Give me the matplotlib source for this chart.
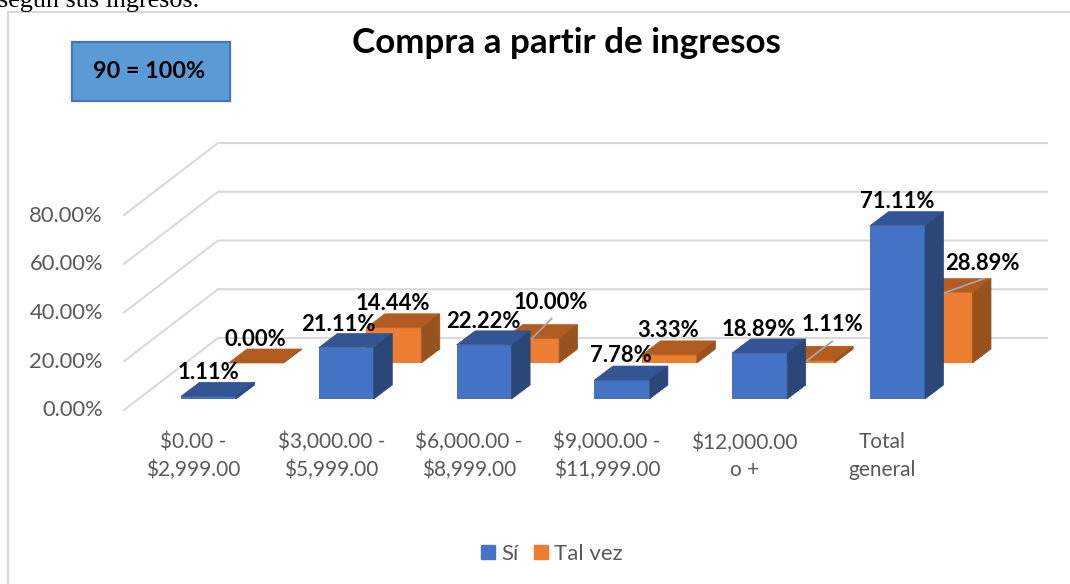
from matplotlib import pyplot as plt
from matplotlib.patches import Rectangle, Patch
import numpy as np

plt.rcParams['font.family'] = ['Lato', 'DejaVu Sans']

categories = ['$0.00 -\n$2,999.00', '$3,000.00 -\n$5,999.00', '$6,000.00 -\n$8,999.00',
              '$9,000.00 -\n$11,999.00', '$12,000.00\no +', 'Total\ngeneral']
si = [1.11, 21.11, 22.22, 7.78, 18.89, 71.11]
tal_vez = [0.00, 14.44, 10.00, 3.33, 1.11, 28.89]
y_ticks = [0, 20, 40, 60, 80]

# pixel scale of the original picture
W, H = 1070, 584
PX_X = 137.8      # px per category
PX_Y = 2.4375     # px per percent
X0, Y0 = 208.5, 399


def dx(px):
    return px / PX_X


def dy(px):
    return px / PX_Y


fig = plt.figure(figsize=(W / 100, H / 100), dpi=100)
ax = fig.add_axes([0, 0, 1, 1])
ax.set_xlim(-X0 / PX_X, (W - X0) / PX_X)
ax.set_ylim((Y0 - H) / PX_Y, Y0 / PX_Y)
ax.axis('off')

x = np.arange(len(categories))
bar_w = dx(55)
depth_x, depth_y = dx(18.5), dy(14)
# orange row sits further back on the floor
row_x, row_y = dx(47.5), dy(36)


def bar3d(xc, base, val, front, top, side, z):
    ax.bar(xc, val, bar_w, bottom=base, color=front, zorder=z)
    l, r = xc - bar_w / 2, xc + bar_w / 2
    t = base + val
    ax.fill([l, r, r + depth_x, l + depth_x], [t, t, t + depth_y, t + depth_y], color=top, lw=0.5, zorder=z)
    ax.fill([r, r + depth_x, r + depth_x, r], [base, base + depth_y, t + depth_y, t], color=side, lw=0.5, zorder=z)


# gridlines: floor/wall edge then along the back wall
grid_left, grid_back, grid_right = dx(124 - X0), dx(218 - X0), dx(1047 - X0)
grid_base = dy(Y0 - 410)
for t in y_ticks:
    yf = grid_base + t
    yb = yf + dy(72)
    ax.plot([grid_left, grid_back, grid_right], [yf, yb, yb], color='#d9d9d9', lw=1.5, zorder=1)
    ax.text(dx(103 - X0), yf + dy(-0.5), '%.2f%%' % t, ha='right', va='center',
            fontsize=15.8, color='#595959')

for i in x:
    bar3d(i + row_x, row_y, tal_vez[i], '#ed7d31', '#b25c21', '#97521e', 2 + i * 2)
    bar3d(i, 0, si[i], '#4472c4', '#345593', '#2a4777', 3 + i * 2)

# leader lines for the labels moved away from their bars
leaders = [(2, (20, 20)), (4, (25, 19)), (5, (39, 14))]
for i, b in leaders:
    xs = i + bar_w / 2 + dx(20)
    ys = row_y + tal_vez[i]
    ax.plot([xs, xs + dx(b[0])], [ys, ys + dy(b[1])], color='#a6a6a6', lw=1.3, zorder=30)

# data labels, offsets in px from the bar's front top centre
si_off = [(-0.5, 23.5), (-8, 23), (-1, 23.5), (-1, 24.5), (-1, 23.5), (0, 24)]
tv_off = [(-1, 23.5), (-1, 24), (19, 36), (-1, 24.5), (25, 35.5), (37, 29)]
for i in x:
    ax.text(i + dx(si_off[i][0]), si[i] + dy(si_off[i][1]), '%.2f%%' % si[i], ha='center', va='center',
            fontsize=15.8, fontweight='bold', color='black', zorder=40)
    ax.text(i + row_x + dx(tv_off[i][0]), row_y + tal_vez[i] + dy(tv_off[i][1]), '%.2f%%' % tal_vez[i],
            ha='center', va='center', fontsize=15.8, fontweight='bold', color='black', zorder=40)

# category labels
for i in x:
    ax.text(i - dx(15), dy(Y0 - 456), categories[i], ha='center', va='center', fontsize=15,
            color='#595959', linespacing=1.45)

ax.text(566.5 / W, 1 - 43 / H, 'Compra a partir de ingresos', transform=ax.transAxes, ha='center', va='center',
        fontsize=25.2, fontweight='bold', color='black')

# text box on the chart
ax.add_patch(Rectangle((72 / W, 1 - 101 / H), 158 / W, 59 / H, transform=ax.transAxes, facecolor='#5b9bd5',
                       edgecolor='#4472c4', lw=1.6, zorder=5))
ax.text(149 / W, 1 - 71 / H, '90 = 100%', transform=ax.transAxes, ha='center', va='center', fontsize=16.8,
        fontweight='bold', color='black', zorder=6)

# chart border and the cut off line of the document above it
ax.plot([8 / W, 8 / W, 1 + 2 / W], [0, 1 - 12 / H, 1 - 12 / H], transform=ax.transAxes,
        color='#d9d9d9', lw=1.5, clip_on=False)
ax.text(-2 / W, 1 - 7 / H, 'según sus ingresos.', transform=ax.transAxes, ha='left', va='baseline',
        family='Liberation Serif', fontsize=18.8, color='black')

handles = [Patch(color='#4472c4', label='Sí'), Patch(color='#ed7d31', label='Tal vez')]
ax.legend(handles=handles, loc='center', bbox_to_anchor=(552 / W, 1 - 554 / H), ncol=2, frameon=False,
          fontsize=16, labelcolor='#595959', handlelength=0.63, handleheight=0.63, handletextpad=0.27,
          columnspacing=0.72, borderpad=0)

fig.savefig('out.png', dpi=100)
